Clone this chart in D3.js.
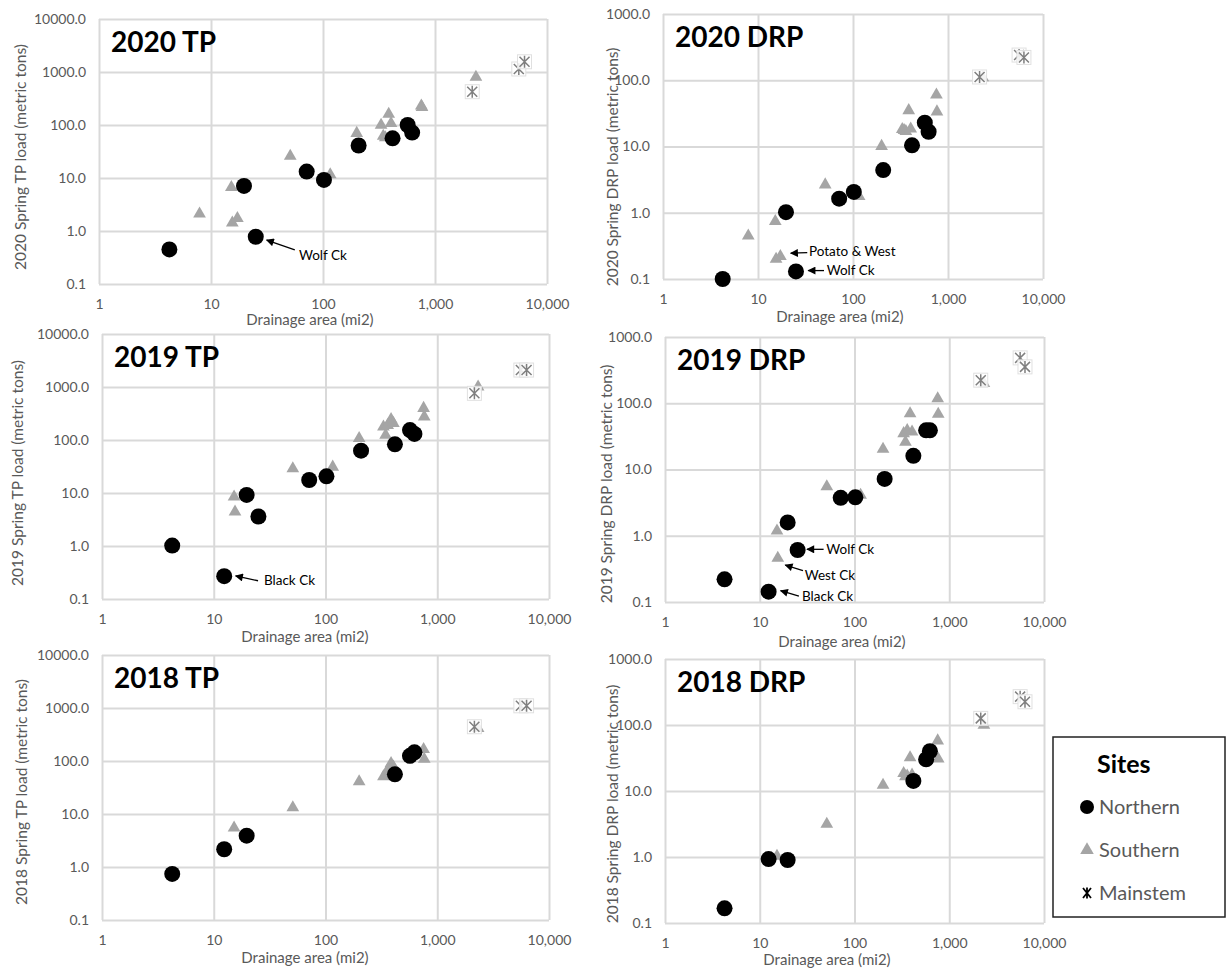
<!DOCTYPE html>
<html><head><meta charset="utf-8">
<script src="https://cdn.jsdelivr.net/npm/d3@7"></script>
<style>body{margin:0;background:#fff} svg{display:block;font-family:Lato,"Open Sans",sans-serif}</style>
</head><body><svg id="c" width="1227" height="973"></svg>
<script>
// ---------- DATA ----------
const seriesNames = ["Northern", "Southern", "Mainstem"];
const xTickValues = [1, 10, 100, 1000, 10000];
const yTicksTP = [0.1, 1, 10, 100, 1000, 10000];
const yTicksDRP = [0.1, 1, 10, 100, 1000];

// drainage areas (mi2)
const northernArea = [4.25, 12.4, 19.7, 25.1, 71.5, 102, 208, 418, 570, 625];
const southernArea = [7.9, 15.2, 15.5, 17.2, 51, 116, 200, 330, 345, 360, 386, 405, 755, 765, 2320];
const mainstemArea = [2150, 5600, 6300];

// loads (metric tons)
const tp2020North = [0.45, null, 7.1, 0.78, 13.2, 9.2, 41, 56, 100, 72];
const tp2020South = [2.1, 6.7, 1.43, 1.74, 26, 11.6, 70, 100, 62, 58, 160, 108, 230, 215, 805];
const tp2020Main = [425, 1140, 1560];

const drp2020North = [0.1, null, 1.02, 0.13, 1.63, 2.06, 4.4, 10.4, 22.9, 16.7];
const drp2020South = [0.45, 0.74, 0.2, 0.22, 2.65, 1.77, 10.1, 18.1, 17.5, 17, 35, 18.5, 60, 33.5, 110];
const drp2020Main = [112, 240, 221];

const tp2019North = [1.02, 0.27, 9.2, 3.6, 17.6, 20.6, 63, 83, 154, 130];
const tp2019South = [null, 8.5, 4.4, null, 29, 31, 108, 178, 124, 190, 245, 206, 398, 275, 1010];
const tp2019Main = [760, 2090, 2090];

const drp2019North = [0.22, 0.143, 1.59, 0.61, 3.74, 3.8, 7.2, 16.1, 39, 39];
const drp2019South = [null, 1.19, 0.46, null, 5.5, 4.1, 20.3, 35, 26, 39, 70, 37, 118, 68.6, 199];
const drp2019Main = [223, 484, 354];

const tp2018North = [0.74, 2.16, 3.9, null, null, null, null, 56, 125, 146];
const tp2018South = [null, 5.5, null, null, 13.2, null, 41, 51, 54, 68, 90, 78, 166, 109, 414];
const tp2018Main = [443, 1100, 1100];

const drp2018North = [0.167, 0.93, 0.9, null, null, null, null, 14.2, 30.2, 40];
const drp2018South = [null, 1.03, null, null, 3.16, null, 12.3, 18.5, 16.5, 17, 32, 17.5, 57.8, 30.6, 100];
const drp2018Main = [126, 269, 225];

// annotations (data coordinates): tip = arrow point, tail = arrow start, text position
const annotations2020TP = [{label:"Wolf Ck", tip:[31.4,0.676], tail:[56,0.44], text:[61,0.35]}];
const annotations2020DRP = [
  {label:"Potato & West", tip:[22.1,0.245], tail:[33,0.25], text:[34.4,0.26]},
  {label:"Wolf Ck", tip:[33.8,0.134], tail:[49.5,0.134], text:[52.9,0.134]}
];
const annotations2019TP = [{label:"Black Ck", tip:[15.7,0.272], tail:[24.9,0.221], text:[28.1,0.228]}];
const annotations2019DRP = [
  {label:"Wolf Ck", tip:[31.5,0.624], tail:[47.2,0.624], text:[50.4,0.624]},
  {label:"West Ck", tip:[18.6,0.361], tail:[28.6,0.297], text:[29.8,0.255]},
  {label:"Black Ck", tip:[16.6,0.148], tail:[25.9,0.123], text:[27.9,0.12]}
];

// ---------- LAYOUT ----------
const panels = [
  {title:"2020 TP", yTitle:"2020 Spring TP load (metric tons)", yTicks:yTicksTP, N:tp2020North, S:tp2020South, M:tp2020Main, ann:annotations2020TP,
   box:{l:99,t:19,r:547,b:284}, yt:[21,157], xt:[310,320]},
  {title:"2020 DRP", yTitle:"2020 Spring DRP load (metric tons)", yTicks:yTicksDRP, N:drp2020North, S:drp2020South, M:drp2020Main, ann:annotations2020DRP,
   box:{l:663,t:14,r:1043,b:279}, yt:[613,167], xt:[840,317]},
  {title:"2019 TP", yTitle:"2019 Spring TP load (metric tons)", yTicks:yTicksTP, N:tp2019North, S:tp2019South, M:tp2019Main, ann:annotations2019TP,
   box:{l:102,t:334,r:549,b:599}, yt:[18,473], xt:[305,637]},
  {title:"2019 DRP", yTitle:"2019 Spring DRP load (metric tons)", yTicks:yTicksDRP, N:drp2019North, S:drp2019South, M:drp2019Main, ann:annotations2019DRP,
   box:{l:665,t:337,r:1044,b:602}, yt:[607,484], xt:[842,642]},
  {title:"2018 TP", yTitle:"2018 Spring TP load (metric tons)", yTicks:yTicksTP, N:tp2018North, S:tp2018South, M:tp2018Main, ann:[],
   box:{l:102,t:655,r:549,b:920}, yt:[22,792], xt:[305,958]},
  {title:"2018 DRP", yTitle:"2018 Spring DRP load (metric tons)", yTicks:yTicksDRP, N:drp2018North, S:drp2018South, M:drp2018Main, ann:[],
   box:{l:665,t:659,r:1044,b:923}, yt:[613,804], xt:[827,960]}
];

const GRID = "#d9d9d9", TXT = "#595959", SOUTH = "#a5a5a5", MAIN = "#7f7f7f";
const svg = d3.select("#c");
svg.append("rect").attr("width",1227).attr("height",973).attr("fill","#fff");

svg.append("defs").append("marker")
  .attr("id","ah").attr("viewBox","0 0 10 10").attr("refX",9).attr("refY",5)
  .attr("markerUnits","userSpaceOnUse").attr("markerWidth",9).attr("markerHeight",8)
  .attr("orient","auto")
  .append("path").attr("d","M0,0L10,5L0,10Z").attr("fill","#000");

const triPath = d3.symbol(d3.symbolTriangle).size(70)();
const starPath = "M-5,-5L5,5M-5,5L5,-5M0,-6L0,6";

panels.forEach(p => {
  const {l,t,r,b} = p.box;
  const x = d3.scaleLog().domain([1,10000]).range([l,r]);
  const y = d3.scaleLog().domain([0.1, p.yTicks[p.yTicks.length-1]]).range([b,t]);
  const g = svg.append("g");

  const xa = g.append("g").attr("transform",`translate(0,${b})`)
    .call(d3.axisBottom(x).tickValues(xTickValues).tickFormat(d3.format(",")).tickSize(-(b-t)).tickPadding(15));
  const ya = g.append("g").attr("transform",`translate(${l},0)`)
    .call(d3.axisLeft(y).tickValues(p.yTicks).tickFormat(d3.format(".1f")).tickSize(-(r-l)).tickPadding(13));
  [xa,ya].forEach(a => {
    a.attr("font-family",null).attr("font-size",null);
    a.select(".domain").remove();
    a.selectAll(".tick line").attr("stroke",GRID).attr("stroke-width",2);
    a.selectAll(".tick text").attr("fill",TXT).attr("font-size",14);
  });

  // axis titles
  g.append("text").attr("x",p.xt[0]).attr("y",p.xt[1]).attr("dy","0.35em")
    .attr("text-anchor","middle").attr("fill",TXT).attr("font-size",15).text("Drainage area (mi2)");
  g.append("text").attr("transform",`translate(${p.yt[0]},${p.yt[1]}) rotate(-90)`).attr("dy","0.35em")
    .attr("text-anchor","middle").attr("fill",TXT).attr("font-size",15.5).text(p.yTitle);

  // panel title
  g.append("text").attr("x",l+12).attr("y",t+33).attr("font-weight","bold").attr("font-size",28)
    .attr("fill","#000").text(p.title);

  // southern
  const sData = southernArea.map((a,i)=>({a, v:p.S[i]})).filter(d=>d.v!=null);
  g.selectAll(".s").data(sData).join("path").attr("class","s")
    .attr("transform",d=>`translate(${x(d.a)},${y(d.v)})`).attr("d",triPath).attr("fill",SOUTH);
  // northern
  const nData = northernArea.map((a,i)=>({a, v:p.N[i]})).filter(d=>d.v!=null);
  g.selectAll(".n").data(nData).join("circle").attr("class","n")
    .attr("cx",d=>x(d.a)).attr("cy",d=>y(d.v)).attr("r",8).attr("fill","#000");
  // mainstem
  const mData = mainstemArea.map((a,i)=>({a, v:p.M[i]})).filter(d=>d.v!=null);
  const mg = g.selectAll(".m").data(mData).join("g").attr("class","m")
    .attr("transform",d=>`translate(${x(d.a)},${y(d.v)})`);
  mg.append("rect").attr("x",-7).attr("y",-7).attr("width",14).attr("height",14)
    .attr("fill","#fff").attr("fill-opacity",0.85).attr("stroke","#e0e0e0").attr("stroke-width",1);
  mg.append("path").attr("d",starPath).attr("stroke",MAIN).attr("stroke-width",1.5).attr("fill","none");

  // annotations
  p.ann.forEach(a => {
    g.append("line").attr("x1",x(a.tail[0])).attr("y1",y(a.tail[1]))
      .attr("x2",x(a.tip[0])).attr("y2",y(a.tip[1]))
      .attr("stroke","#000").attr("stroke-width",1.3).attr("marker-end","url(#ah)");
    g.append("text").attr("x",x(a.text[0])).attr("y",y(a.text[1])).attr("dy","0.35em")
      .attr("font-size",13.5).attr("fill","#000").text(a.label);
  });
});

// ---------- LEGEND ----------
const lg = svg.append("g");
lg.append("rect").attr("x",1053).attr("y",737).attr("width",172).attr("height",180)
  .attr("fill","#fff").attr("stroke","#222").attr("stroke-width",1.5);
lg.append("text").attr("x",1097).attr("y",773).attr("font-weight","bold").attr("font-size",25).attr("fill","#000").text("Sites");
const legendY = d3.scalePoint().domain(seriesNames).range([807,893]);
seriesNames.forEach((name,i) => {
  const cy = legendY(name);
  const mk = lg.append("g").attr("transform",`translate(1087,${cy})`);
  if (i===0) mk.append("circle").attr("r",7).attr("fill","#000");
  else if (i===1) mk.append("path").attr("d",d3.symbol(d3.symbolTriangle).size(80)()).attr("fill",SOUTH);
  else mk.append("path").attr("d","M-4,-5L4,5M-4,5L4,-5M0,-5.5L0,5.5").attr("stroke","#000").attr("stroke-width",1.8);
  lg.append("text").attr("x",1099).attr("y",cy).attr("dy","0.35em").attr("font-size",20).attr("fill",TXT).text(name);
});
</script></body></html>
